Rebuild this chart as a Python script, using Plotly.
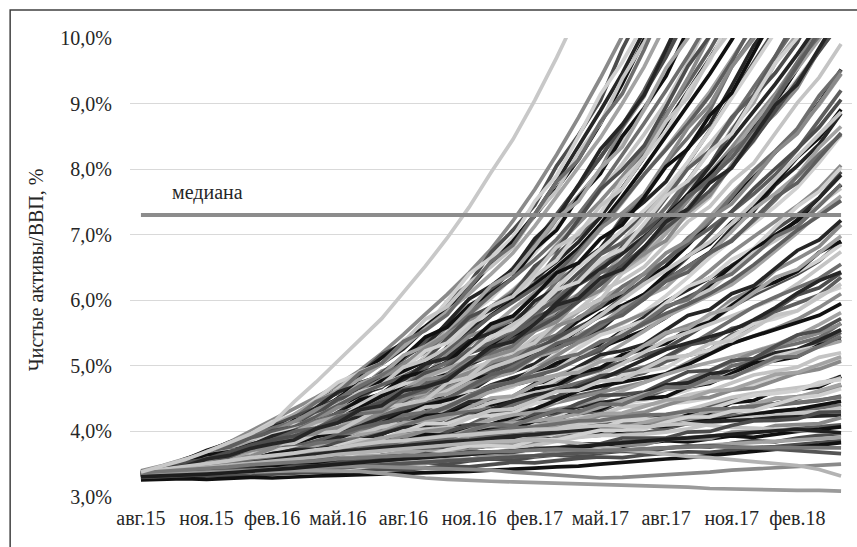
import plotly.graph_objects as go

months = ["авг.15","сен.15","окт.15","ноя.15","дек.15","янв.16","фев.16","мар.16","апр.16","май.16",
          "июн.16","июл.16","авг.16","сен.16","окт.16","ноя.16","дек.16","янв.17","фев.17","мар.17",
          "апр.17","май.17","июн.17","июл.17","авг.17","сен.17","окт.17","ноя.17","дек.17","янв.18",
          "фев.18","мар.18","апр.18"]
tick_months = months[::3]
y_ticks = [3, 4, 5, 6, 7, 8, 9, 10]
y_tick_text = ["3,0%", "4,0%", "5,0%", "6,0%", "7,0%", "8,0%", "9,0%", "10,0%"]
median_value = 7.3
median_label = "медиана"
y_title = "Чистые активы/ВВП, %"

# paths that leave the top of the chart (values in %)
exit_01 = [3.40,3.48,3.58,3.69,3.83,4.00,4.18,4.35,4.52,4.71,4.93,5.19,5.48,5.79,6.09,6.42,6.78,7.21,7.69,8.22,8.79,9.39,10.03]
exit_02 = [3.36,3.44,3.53,3.68,3.83,3.94,4.06,4.21,4.43,4.64,4.83,5.03,5.26,5.57,5.90,6.22,6.54,6.90,7.31,7.81,8.34,8.89,9.46,10.11]
exit_03 = [3.32,3.43,3.57,3.71,3.82,3.93,4.05,4.22,4.44,4.64,4.88,5.13,5.36,5.60,5.86,6.18,6.55,6.90,7.29,7.70,8.15,8.69,9.30,9.96,10.66]
exit_04 = [3.38,3.46,3.55,3.63,3.73,3.89,4.08,4.26,4.46,4.62,4.80,5.03,5.29,5.57,5.83,6.10,6.40,6.72,7.13,7.58,8.01,8.48,9.00,9.56,10.22]
exit_05 = [3.35,3.43,3.50,3.63,3.72,3.83,3.98,4.15,4.31,4.46,4.63,4.86,5.10,5.35,5.60,5.85,6.14,6.49,6.88,7.31,7.73,8.18,8.67,9.20,9.83,10.53]
exit_06 = [3.37,3.47,3.56,3.63,3.76,3.92,4.08,4.22,4.35,4.49,4.66,4.89,5.14,5.39,5.62,5.87,6.14,6.48,6.86,7.30,7.74,8.18,8.65,9.15,9.71,10.36]
exit_07 = [3.33,3.45,3.51,3.59,3.72,3.87,4.03,4.17,4.28,4.44,4.59,4.76,4.98,5.23,5.52,5.77,6.03,6.36,6.72,7.13,7.56,7.98,8.42,8.90,9.44,10.07,10.70]
exit_08 = [3.35,3.41,3.49,3.63,3.76,3.84,3.93,4.04,4.23,4.42,4.55,4.70,4.88,5.14,5.42,5.66,5.90,6.16,6.46,6.85,7.27,7.67,8.08,8.53,9.02,9.62,10.29]
exit_09 = [3.38,3.45,3.56,3.65,3.79,3.94,4.05,4.15,4.30,4.50,4.69,4.86,5.03,5.22,5.48,5.78,6.08,6.34,6.62,6.93,7.31,7.74,8.21,8.70,9.20,9.72,10.28]
exit_10 = [3.31,3.45,3.52,3.58,3.66,3.82,3.98,4.15,4.33,4.47,4.59,4.79,5.02,5.27,5.48,5.68,5.90,6.14,6.46,6.83,7.17,7.51,7.89,8.30,8.81,9.39,10.03,10.65]
exit_11 = [3.36,3.39,3.49,3.63,3.71,3.78,3.86,4.01,4.19,4.38,4.55,4.69,4.83,5.01,5.27,5.54,5.83,6.08,6.33,6.59,6.89,7.27,7.71,8.18,8.69,9.18,9.69,10.23]
exit_12 = [3.33,3.40,3.53,3.66,3.74,3.81,3.88,4.03,4.20,4.37,4.56,4.77,4.92,5.07,5.25,5.49,5.77,6.00,6.24,6.51,6.79,7.16,7.58,8.03,8.51,8.97,9.45,9.97,10.54]
exit_13 = [3.37,3.40,3.51,3.64,3.75,3.82,3.89,3.97,4.06,4.22,4.41,4.55,4.69,4.83,5.06,5.31,5.59,5.87,6.12,6.37,6.70,7.08,7.49,7.92,8.32,8.74,9.18,9.68,10.19]
exit_14 = [3.34,3.44,3.56,3.63,3.76,3.90,3.99,4.07,4.22,4.39,4.57,4.71,4.84,4.99,5.23,5.49,5.76,5.97,6.19,6.43,6.74,7.10,7.51,7.92,8.30,8.69,9.12,9.64,10.23]
exit_15 = [3.35,3.40,3.46,3.59,3.69,3.75,3.82,3.91,4.08,4.23,4.32,4.44,4.58,4.79,5.02,5.20,5.38,5.56,5.79,6.10,6.42,6.71,7.01,7.32,7.67,8.10,8.59,9.11,9.62,10.14]
exit_16 = [3.30,3.44,3.52,3.56,3.67,3.80,3.95,4.04,4.12,4.20,4.32,4.51,4.71,4.89,5.03,5.18,5.36,5.60,5.87,6.20,6.51,6.78,7.07,7.37,7.70,8.11,8.58,9.08,9.57,10.06,10.60]
exit_17 = [3.38,3.40,3.51,3.64,3.70,3.75,3.82,3.94,4.10,4.24,4.41,4.59,4.73,4.85,4.99,5.19,5.43,5.63,5.82,6.03,6.25,6.56,6.90,7.27,7.66,8.03,8.39,8.79,9.23,9.70,10.24]
exit_18 = [3.35,3.44,3.49,3.53,3.59,3.73,3.87,4.01,4.16,4.27,4.36,4.51,4.70,4.90,5.05,5.19,5.35,5.52,5.76,6.05,6.28,6.52,6.78,7.06,7.42,7.83,8.28,8.75,9.25,9.72,10.20]
exit_19 = [3.36,3.40,3.43,3.53,3.57,3.62,3.74,3.88,3.97,4.05,4.14,4.29,4.48,4.65,4.78,4.90,5.05,5.28,5.53,5.81,6.04,6.27,6.50,6.77,7.12,7.52,7.94,8.33,8.74,9.15,9.63,10.20]
exit_20 = [3.33,3.47,3.52,3.55,3.64,3.78,3.93,4.01,4.07,4.14,4.23,4.41,4.61,4.78,4.90,5.02,5.16,5.39,5.64,5.96,6.25,6.48,6.71,6.97,7.24,7.62,8.04,8.48,8.89,9.30,9.75,10.23]
exit_21 = [3.37,3.40,3.52,3.64,3.69,3.73,3.77,3.90,4.05,4.19,4.36,4.54,4.66,4.76,4.87,5.06,5.29,5.47,5.62,5.80,5.99,6.26,6.59,6.93,7.29,7.61,7.92,8.26,8.63,9.02,9.53,10.10]
exit_22 = [3.32,3.44,3.48,3.51,3.56,3.70,3.84,3.99,4.14,4.23,4.30,4.45,4.64,4.83,4.96,5.08,5.20,5.34,5.57,5.84,6.04,6.24,6.46,6.69,7.02,7.41,7.82,8.25,8.70,9.11,9.53,9.98,10.50]
exit_23 = [3.38,3.43,3.53,3.56,3.61,3.74,3.88,4.00,4.05,4.14,4.31,4.48,4.64,4.73,4.83,5.02,5.25,5.48,5.69,5.86,6.03,6.30,6.61,6.94,7.27,7.57,7.86,8.17,8.59,9.06,9.58,10.09]
exit_24 = [3.33,3.43,3.52,3.58,3.68,3.79,3.87,3.93,4.04,4.19,4.33,4.44,4.54,4.66,4.83,5.04,5.24,5.40,5.56,5.74,5.98,6.24,6.53,6.82,7.10,7.38,7.67,8.03,8.44,8.89,9.35,9.79,10.25]
exit_25 = [3.35,3.44,3.58,3.67,3.82,3.93,4.12,4.22,4.46,4.58,4.87,5.17,5.34,5.56,5.98,6.25,6.73,7.07,7.45,8.05,8.52,9.05,9.83,10.48]
exit_26 = [3.35,3.47,3.55,3.71,3.79,3.96,4.15,4.25,4.49,4.75,4.89,5.04,5.39,5.59,5.99,6.40,6.65,6.96,7.51,7.90,8.50,9.14,9.63,10.22]
exit_27 = [3.35,3.44,3.57,3.66,3.82,3.93,4.04,4.26,4.39,4.65,4.91,5.04,5.36,5.71,5.90,6.27,6.51,6.80,7.31,7.67,8.25,8.70,9.38,9.93,10.52]
exit_28 = [3.35,3.46,3.54,3.69,3.79,3.95,4.08,4.20,4.45,4.59,4.89,5.04,5.37,5.54,5.78,6.18,6.59,6.84,7.31,7.81,8.14,8.72,9.15,9.82,10.57]
exit_29 = [3.35,3.42,3.55,3.62,3.76,3.85,4.02,4.09,4.31,4.39,4.65,4.92,5.04,5.20,5.57,5.78,6.19,6.45,6.74,7.24,7.59,7.99,8.63,9.11,9.83,10.42]
exit_30 = [3.35,3.46,3.53,3.67,3.74,3.90,4.07,4.15,4.36,4.60,4.71,4.83,5.15,5.30,5.66,6.02,6.22,6.47,6.94,7.25,7.76,8.30,8.68,9.13,9.82,10.54]
exit_31 = [3.35,3.43,3.55,3.63,3.78,3.87,3.96,4.17,4.27,4.51,4.74,4.85,5.13,5.44,5.59,5.92,6.11,6.34,6.78,7.07,7.57,7.93,8.50,8.93,9.42,10.13]
exit_32 = [3.35,3.45,3.52,3.66,3.75,3.90,4.01,4.11,4.33,4.47,4.73,4.86,5.16,5.30,5.50,5.86,6.22,6.42,6.82,7.25,7.51,8.01,8.34,8.91,9.54,10.00,10.71]
exit_33 = [3.35,3.41,3.53,3.59,3.72,3.80,3.95,4.00,4.19,4.27,4.49,4.73,4.83,4.96,5.29,5.46,5.83,6.03,6.26,6.70,6.98,7.30,7.85,8.23,8.84,9.31,9.82,10.40]
exit_34 = [3.35,3.45,3.51,3.65,3.70,3.85,4.01,4.07,4.26,4.49,4.57,4.67,4.96,5.09,5.42,5.74,5.90,6.10,6.52,6.77,7.23,7.69,7.99,8.36,8.95,9.57,10.03]
exit_35 = [3.35,3.42,3.53,3.60,3.74,3.82,3.90,4.09,4.18,4.40,4.60,4.69,4.95,5.23,5.35,5.64,5.79,5.98,6.37,6.61,7.05,7.33,7.83,8.18,8.57,9.18,9.65,10.33]
exit_36 = [3.35,3.44,3.50,3.63,3.71,3.85,3.94,4.04,4.24,4.36,4.60,4.71,4.98,5.09,5.27,5.59,5.91,6.06,6.42,6.81,7.01,7.44,7.70,8.19,8.73,9.09,9.69,10.13]
exit_37 = [3.35,3.40,3.52,3.57,3.68,3.75,3.89,3.93,4.11,4.16,4.37,4.59,4.67,4.77,5.08,5.21,5.55,5.71,5.90,6.29,6.52,6.78,7.27,7.58,8.10,8.48,8.90,9.56,10.03]
exit_38 = [3.35,3.44,3.49,3.62,3.66,3.79,3.94,3.99,4.17,4.37,4.43,4.51,4.78,4.87,5.17,5.45,5.58,5.73,6.11,6.31,6.70,7.10,7.33,7.62,8.12,8.63,8.98,9.56,9.99,10.68]
exit_39 = [3.35,3.41,3.52,3.58,3.70,3.77,3.84,4.01,4.09,4.29,4.47,4.54,4.78,5.03,5.12,5.38,5.50,5.64,5.99,6.18,6.56,6.79,7.23,7.50,7.81,8.32,8.69,9.27,9.88,10.34]
exit_40 = [3.35,3.44,3.49,3.61,3.68,3.80,3.89,3.97,4.16,4.25,4.48,4.57,4.83,4.91,5.05,5.34,5.64,5.76,6.07,6.42,6.57,6.94,7.15,7.57,8.04,8.31,8.82,9.16,9.77,10.38]
exit_41 = [3.35,3.40,3.50,3.55,3.65,3.70,3.84,3.86,4.03,4.06,4.25,4.45,4.51,4.59,4.87,4.97,5.27,5.41,5.56,5.91,6.09,6.30,6.72,6.97,7.42,7.73,8.05,8.61,9.01,9.62,10.06]
exit_42 = [3.35,3.44,3.48,3.60,3.63,3.76,3.90,3.93,4.09,4.29,4.34,4.39,4.64,4.72,4.99,5.25,5.35,5.48,5.82,5.99,6.34,6.70,6.88,7.12,7.56,8.01,8.28,8.79,9.13,9.72,10.32]
exit_43 = [3.35,3.41,3.51,3.56,3.68,3.74,3.80,3.96,4.02,4.21,4.39,4.43,4.66,4.89,4.96,5.20,5.29,5.42,5.73,5.89,6.24,6.43,6.82,7.05,7.30,7.76,8.06,8.57,9.10,9.47,9.93,10.58]
exit_44 = [3.35,3.44,3.48,3.60,3.65,3.77,3.85,3.92,4.10,4.19,4.40,4.47,4.72,4.78,4.91,5.19,5.45,5.56,5.84,6.16,6.28,6.62,6.78,7.17,7.59,7.82,8.27,8.54,9.08,9.62,10.00,10.61]
exit_45 = [3.35,3.40,3.50,3.53,3.63,3.68,3.80,3.82,3.97,4.00,4.18,4.37,4.41,4.48,4.74,4.83,5.11,5.23,5.35,5.68,5.84,6.01,6.41,6.62,7.03,7.29,7.57,8.08,8.42,8.96,9.37,9.81,10.40]
exit_46 = [3.35,3.43,3.47,3.59,3.61,3.73,3.86,3.89,4.04,4.23,4.27,4.31,4.55,4.61,4.87,5.12,5.19,5.30,5.62,5.76,6.09,6.42,6.57,6.77,7.17,7.59,7.81,8.27,8.55,9.08,9.63,10.03]
exit_47 = [3.35,3.40,3.50,3.55,3.66,3.71,3.76,3.92,3.97,4.15,4.32,4.35,4.57,4.79,4.84,5.06,5.14,5.24,5.53,5.67,5.99,6.15,6.51,6.71,6.91,7.34,7.60,8.06,8.53,8.85,9.24,9.82,10.22]
exit_48 = [3.35,3.43,3.47,3.58,3.63,3.74,3.81,3.87,4.04,4.13,4.33,4.39,4.62,4.68,4.78,5.04,5.29,5.37,5.64,5.93,6.03,6.34,6.47,6.81,7.20,7.39,7.79,8.02,8.50,8.98,9.29,9.83,10.40]

# paths that stay inside the chart
mid_01 = [3.36,3.39,3.43,3.55,3.65,3.68,3.71,3.77,3.92,4.06,4.12,4.18,4.28,4.47,4.66,4.79,4.91,5.03,5.18,5.44,5.69,5.89,6.08,6.30,6.52,6.84,7.20,7.58,7.92,8.26,8.59,9.01,9.52]
mid_02 = [3.31,3.46,3.50,3.52,3.61,3.74,3.87,3.94,3.98,4.03,4.11,4.27,4.45,4.61,4.69,4.79,4.90,5.08,5.31,5.58,5.83,6.02,6.20,6.40,6.61,6.92,7.27,7.63,7.95,8.27,8.60,8.98,9.45]
mid_03 = [3.39,3.38,3.50,3.61,3.65,3.68,3.71,3.82,3.96,4.08,4.23,4.39,4.49,4.57,4.65,4.81,5.01,5.14,5.27,5.40,5.54,5.77,6.04,6.32,6.62,6.87,7.10,7.35,7.62,7.92,8.30,8.75,9.20]
mid_04 = [3.34,3.43,3.47,3.48,3.53,3.65,3.78,3.91,4.04,4.11,4.16,4.30,4.46,4.64,4.73,4.82,4.92,5.02,5.22,5.44,5.60,5.75,5.91,6.09,6.35,6.66,7.00,7.34,7.70,8.01,8.31,8.64,9.06]
mid_05 = [3.37,3.38,3.40,3.48,3.51,3.54,3.64,3.76,3.82,3.87,3.93,4.06,4.21,4.35,4.43,4.51,4.61,4.77,4.98,5.18,5.34,5.50,5.64,5.82,6.07,6.35,6.65,6.91,7.17,7.43,7.72,8.10,8.52]
mid_06 = [3.33,3.42,3.50,3.55,3.65,3.75,3.81,3.85,3.95,4.07,4.20,4.29,4.37,4.47,4.62,4.80,4.97,5.09,5.22,5.35,5.55,5.77,6.01,6.25,6.46,6.67,6.89,7.17,7.49,7.85,8.20,8.53,8.87]
mid_07 = [3.35,3.42,3.49,3.51,3.56,3.66,3.77,3.87,3.91,3.97,4.10,4.24,4.36,4.43,4.51,4.65,4.82,5.00,5.16,5.27,5.41,5.60,5.83,6.06,6.31,6.51,6.71,6.92,7.21,7.53,7.89,8.23,8.53]
mid_08 = [3.30,3.44,3.47,3.49,3.57,3.68,3.78,3.84,3.87,3.91,3.98,4.12,4.26,4.38,4.45,4.53,4.62,4.77,4.95,5.16,5.36,5.51,5.65,5.80,5.96,6.19,6.45,6.73,6.97,7.20,7.44,7.71,8.06]
mid_09 = [3.37,3.38,3.47,3.56,3.60,3.63,3.65,3.74,3.86,3.95,4.08,4.21,4.29,4.35,4.42,4.55,4.71,4.82,4.92,5.02,5.14,5.31,5.53,5.74,5.98,6.16,6.33,6.52,6.73,6.95,7.23,7.56,7.91]
mid_10 = [3.34,3.42,3.44,3.46,3.50,3.60,3.70,3.81,3.92,3.98,4.02,4.13,4.27,4.40,4.48,4.56,4.63,4.72,4.86,5.04,5.17,5.28,5.41,5.54,5.74,5.97,6.24,6.50,6.77,7.00,7.21,7.45,7.76]
mid_11 = [3.38,3.36,3.42,3.51,3.55,3.57,3.59,3.68,3.79,3.90,4.00,4.05,4.10,4.17,4.31,4.46,4.61,4.71,4.79,4.86,4.97,5.13,5.33,5.53,5.75,5.91,6.07,6.24,6.48,6.75,7.03,7.33,7.59]
mid_12 = [3.32,3.42,3.49,3.52,3.60,3.69,3.74,3.77,3.85,3.95,4.06,4.13,4.19,4.25,4.38,4.53,4.67,4.76,4.85,4.94,5.10,5.27,5.46,5.64,5.80,5.94,6.10,6.30,6.54,6.81,7.07,7.29,7.52]
mid_13 = [3.36,3.38,3.40,3.48,3.56,3.57,3.59,3.63,3.73,3.82,3.85,3.89,3.96,4.08,4.21,4.29,4.35,4.42,4.51,4.67,4.84,4.95,5.05,5.16,5.27,5.46,5.67,5.90,6.08,6.24,6.40,6.60,6.89]
mid_14 = [3.33,3.43,3.45,3.46,3.53,3.62,3.72,3.75,3.78,3.80,3.85,3.97,4.09,4.19,4.24,4.29,4.34,4.47,4.62,4.79,4.95,5.06,5.15,5.25,5.36,5.53,5.73,5.95,6.12,6.27,6.43,6.61,6.85]
mid_15 = [3.38,3.37,3.45,3.53,3.56,3.58,3.59,3.66,3.76,3.84,3.95,4.07,4.12,4.16,4.20,4.31,4.44,4.52,4.59,4.65,4.73,4.87,5.03,5.21,5.39,5.51,5.63,5.76,5.89,6.03,6.25,6.49,6.74]
mid_16 = [3.32,3.41,3.43,3.43,3.45,3.54,3.63,3.72,3.82,3.86,3.89,3.97,4.08,4.20,4.26,4.30,4.34,4.40,4.52,4.65,4.74,4.82,4.89,4.98,5.12,5.30,5.50,5.70,5.90,6.05,6.19,6.33,6.55]
mid_17 = [3.36,3.38,3.38,3.43,3.45,3.46,3.52,3.61,3.64,3.67,3.70,3.79,3.88,3.96,4.01,4.04,4.09,4.19,4.31,4.44,4.52,4.60,4.67,4.75,4.88,5.05,5.22,5.34,5.46,5.57,5.71,5.89,6.10]
mid_18 = [3.33,3.41,3.46,3.46,3.48,3.57,3.66,3.72,3.73,3.77,3.87,3.97,4.06,4.09,4.12,4.21,4.33,4.46,4.56,4.61,4.67,4.79,4.94,5.09,5.25,5.35,5.44,5.54,5.70,5.89,6.11,6.30,6.43]
mid_19 = [3.37,3.42,3.44,3.44,3.49,3.57,3.66,3.69,3.69,3.70,3.74,3.84,3.94,4.03,4.05,4.08,4.11,4.22,4.34,4.48,4.62,4.69,4.75,4.81,4.88,5.02,5.18,5.34,5.45,5.55,5.66,5.77,5.95]
mid_20 = [3.34,3.37,3.43,3.50,3.51,3.52,3.54,3.60,3.67,3.73,3.82,3.90,3.95,3.98,4.01,4.08,4.18,4.25,4.29,4.34,4.40,4.49,4.62,4.74,4.87,4.97,5.05,5.13,5.22,5.32,5.46,5.63,5.81]
mid_21 = [3.30,3.40,3.41,3.41,3.43,3.50,3.57,3.64,3.71,3.74,3.76,3.83,3.91,4.00,4.04,4.06,4.10,4.14,4.22,4.33,4.39,4.43,4.49,4.55,4.66,4.79,4.93,5.06,5.20,5.31,5.40,5.50,5.64]
mid_22 = [3.37,3.39,3.39,3.39,3.43,3.50,3.57,3.60,3.60,3.62,3.64,3.66,3.73,3.80,3.89,3.92,3.95,4.03,4.12,4.22,4.32,4.37,4.43,4.47,4.53,4.63,4.76,4.88,5.01,5.15,5.23,5.31,5.41]
mid_23 = [3.32,3.38,3.44,3.44,3.50,3.56,3.58,3.60,3.64,3.70,3.78,3.80,3.82,3.85,3.92,4.02,4.09,4.13,4.17,4.20,4.27,4.37,4.47,4.57,4.64,4.68,4.75,4.84,4.95,5.09,5.20,5.29,5.38]
mid_24 = [3.36,3.36,3.37,3.42,3.46,3.46,3.46,3.48,3.54,3.60,3.60,3.61,3.63,3.70,3.77,3.80,3.83,3.85,3.88,3.96,4.05,4.10,4.13,4.17,4.20,4.28,4.38,4.49,4.56,4.61,4.64,4.72,4.84]
mid_25 = [3.38,3.40,3.41,3.40,3.44,3.49,3.55,3.57,3.57,3.57,3.59,3.65,3.72,3.78,3.79,3.80,3.81,3.87,3.95,4.04,4.13,4.16,4.19,4.22,4.25,4.33,4.42,4.52,4.58,4.62,4.67,4.71,4.82]
mid_26 = [3.33,3.36,3.41,3.46,3.46,3.45,3.45,3.50,3.55,3.60,3.66,3.72,3.74,3.74,3.75,3.80,3.87,3.90,3.90,3.92,3.94,4.00,4.08,4.16,4.25,4.30,4.32,4.35,4.39,4.42,4.50,4.60,4.71]
mid_27 = [3.35,3.38,3.38,3.38,3.38,3.43,3.48,3.53,3.57,3.59,3.59,3.63,3.68,3.73,3.75,3.77,3.77,3.79,3.84,3.90,3.92,3.95,3.97,3.98,4.04,4.12,4.20,4.28,4.36,4.40,4.44,4.47,4.54]
mid_28 = [3.33,3.39,3.39,3.39,3.42,3.45,3.51,3.52,3.51,3.51,3.53,3.57,3.62,3.66,3.66,3.68,3.67,3.73,3.78,3.85,3.91,3.94,3.94,3.96,3.99,4.04,4.11,4.18,4.22,4.24,4.28,4.30,4.36]
mid_29 = [3.36,3.40,3.44,3.47,3.52,3.55,3.59,3.62,3.66,3.70,3.72,3.75,3.79,3.82,3.84,3.86,3.90,3.93,3.95,3.98,4.02,4.03,4.05,4.08,4.10,4.12,4.15,4.16,4.18,4.21,4.22,4.24,4.25]
mid_30 = [3.34,3.36,3.38,3.39,3.41,3.43,3.45,3.46,3.49,3.52,3.54,3.55,3.58,3.62,3.64,3.65,3.67,3.70,3.74,3.75,3.77,3.80,3.84,3.86,3.88,3.90,3.93,3.96,3.99,4.01,4.04,4.07,4.10]
mid_31 = [3.38,3.42,3.47,3.50,3.55,3.60,3.63,3.67,3.72,3.75,3.80,3.84,3.86,3.90,3.93,3.95,3.98,4.01,4.03,4.04,4.07,4.09,4.08,4.07,4.10,4.12,4.09,4.06,4.05,4.03,4.01,4.00,3.98]
mid_32 = [3.32,3.33,3.35,3.36,3.38,3.40,3.41,3.43,3.45,3.47,3.49,3.50,3.52,3.55,3.57,3.58,3.60,3.62,3.63,3.65,3.67,3.70,3.72,3.74,3.76,3.78,3.80,3.82,3.84,3.85,3.87,3.89,3.91]
mid_33 = [3.35,3.43,3.47,3.57,3.61,3.71,3.82,3.86,3.99,4.15,4.20,4.26,4.46,4.54,4.75,4.96,5.06,5.17,5.44,5.59,5.86,6.14,6.30,6.51,6.85,7.20,7.43,7.81,8.09,8.55,9.01,9.40,9.91]
mid_34 = [3.35,3.40,3.48,3.53,3.63,3.69,3.74,3.87,3.93,4.08,4.22,4.27,4.45,4.64,4.70,4.89,4.98,5.09,5.34,5.47,5.74,5.91,6.21,6.40,6.60,6.95,7.20,7.58,7.98,8.28,8.62,9.12,9.51]
mid_35 = [3.35,3.42,3.46,3.56,3.61,3.71,3.77,3.83,3.97,4.05,4.21,4.28,4.47,4.55,4.65,4.86,5.06,5.14,5.38,5.61,5.72,5.98,6.12,6.41,6.72,6.91,7.25,7.47,7.85,8.26,8.54,8.99,9.46]
mid_36 = [3.35,3.38,3.48,3.51,3.59,3.63,3.74,3.76,3.88,3.91,4.06,4.21,4.25,4.32,4.51,4.60,4.82,4.91,5.03,5.27,5.40,5.55,5.84,6.02,6.31,6.52,6.73,7.10,7.36,7.76,8.05,8.38,8.85]
mid_37 = [3.35,3.42,3.45,3.54,3.58,3.67,3.78,3.81,3.92,4.06,4.10,4.16,4.34,4.40,4.59,4.79,4.86,4.94,5.20,5.30,5.55,5.80,5.92,6.09,6.39,6.68,6.86,7.19,7.41,7.80,8.18,8.48,8.91]
mid_38 = [3.35,3.39,3.47,3.51,3.61,3.66,3.70,3.82,3.87,4.01,4.14,4.18,4.34,4.52,4.57,4.74,4.81,4.90,5.13,5.23,5.48,5.62,5.89,6.04,6.20,6.51,6.71,7.05,7.39,7.63,7.91,8.33,8.65]
mid_39 = [3.35,3.42,3.44,3.54,3.59,3.67,3.72,3.78,3.91,3.97,4.12,4.18,4.35,4.41,4.50,4.69,4.87,4.94,5.14,5.34,5.44,5.66,5.77,6.02,6.29,6.43,6.73,6.90,7.23,7.57,7.79,8.16,8.55]
mid_40 = [3.35,3.38,3.46,3.49,3.56,3.60,3.69,3.71,3.82,3.83,3.97,4.11,4.14,4.18,4.36,4.43,4.63,4.70,4.79,5.01,5.11,5.23,5.49,5.63,5.89,6.05,6.21,6.53,6.74,7.08,7.30,7.56,7.96]
mid_41 = [3.35,3.42,3.44,3.52,3.55,3.64,3.73,3.75,3.86,3.98,4.01,4.05,4.22,4.26,4.44,4.61,4.66,4.73,4.96,5.04,5.27,5.47,5.57,5.69,5.96,6.21,6.34,6.62,6.79,7.12,7.43,7.66,8.02]
mid_42 = [3.35,3.39,3.45,3.49,3.58,3.62,3.65,3.76,3.80,3.93,4.04,4.07,4.22,4.37,4.40,4.56,4.60,4.68,4.87,4.95,5.17,5.27,5.51,5.62,5.74,6.00,6.16,6.45,6.73,6.91,7.12,7.47,7.71]
mid_43 = [3.35,3.42,3.43,3.52,3.56,3.64,3.68,3.73,3.85,3.90,4.04,4.09,4.25,4.29,4.36,4.54,4.70,4.75,4.93,5.11,5.18,5.37,5.45,5.67,5.91,6.01,6.27,6.40,6.68,6.97,7.13,7.44,7.77]
mid_44 = [3.35,3.38,3.45,3.47,3.53,3.56,3.65,3.65,3.76,3.76,3.89,4.01,4.03,4.05,4.22,4.27,4.45,4.50,4.57,4.76,4.84,4.93,5.16,5.26,5.49,5.61,5.74,6.01,6.17,6.46,6.63,6.82,7.15]
mid_45 = [3.35,3.42,3.43,3.50,3.53,3.60,3.69,3.70,3.79,3.91,3.92,3.95,4.11,4.13,4.29,4.45,4.48,4.53,4.73,4.79,4.99,5.17,5.23,5.33,5.55,5.77,5.86,6.10,6.22,6.49,6.76,6.92,7.22]
mid_46 = [3.35,3.38,3.44,3.47,3.55,3.58,3.61,3.70,3.74,3.85,3.95,3.97,4.10,4.24,4.26,4.39,4.41,4.47,4.65,4.70,4.89,4.97,5.17,5.25,5.34,5.56,5.67,5.92,6.16,6.28,6.44,6.73,6.90]
mid_47 = [3.35,3.41,3.42,3.50,3.53,3.61,3.64,3.67,3.78,3.82,3.95,3.99,4.13,4.16,4.21,4.37,4.51,4.54,4.71,4.86,4.90,5.07,5.11,5.31,5.51,5.57,5.79,5.88,6.11,6.35,6.47,6.72,6.98]
mid_48 = [3.35,3.37,3.44,3.45,3.50,3.52,3.60,3.59,3.69,3.68,3.80,3.90,3.90,3.92,4.07,4.10,4.25,4.29,4.34,4.50,4.55,4.62,4.81,4.89,5.07,5.16,5.24,5.48,5.59,5.83,5.95,6.08,6.35]
mid_49 = [3.35,3.41,3.41,3.48,3.50,3.56,3.64,3.64,3.72,3.83,3.83,3.85,3.98,3.99,4.14,4.27,4.28,4.31,4.49,4.53,4.70,4.85,4.89,4.95,5.14,5.32,5.38,5.57,5.64,5.86,6.08,6.19,6.42]
mid_50 = [3.35,3.38,3.43,3.45,3.52,3.55,3.57,3.65,3.67,3.78,3.87,3.87,3.99,4.12,4.12,4.23,4.24,4.28,4.43,4.46,4.63,4.68,4.86,4.91,4.97,5.16,5.24,5.45,5.64,5.72,5.84,6.08,6.20]
mid_51 = [3.35,3.40,3.41,3.49,3.50,3.56,3.59,3.62,3.71,3.74,3.86,3.88,4.01,4.03,4.06,4.20,4.32,4.34,4.48,4.61,4.63,4.77,4.79,4.95,5.12,5.16,5.34,5.38,5.57,5.77,5.84,6.04,6.25]
mid_52 = [3.35,3.36,3.42,3.43,3.47,3.48,3.56,3.54,3.62,3.60,3.71,3.80,3.79,3.79,3.92,3.93,4.07,4.09,4.11,4.26,4.29,4.32,4.50,4.54,4.70,4.76,4.81,5.00,5.07,5.27,5.34,5.43,5.65]
mid_53 = [3.35,3.40,3.40,3.46,3.46,3.52,3.59,3.58,3.65,3.75,3.74,3.74,3.86,3.86,3.99,4.10,4.10,4.11,4.26,4.28,4.43,4.55,4.56,4.60,4.76,4.91,4.93,5.08,5.11,5.30,5.47,5.54,5.72]
mid_54 = [3.35,3.36,3.41,3.42,3.48,3.50,3.51,3.59,3.59,3.68,3.76,3.75,3.85,3.95,3.94,4.03,4.02,4.03,4.16,4.17,4.31,4.33,4.49,4.50,4.53,4.68,4.73,4.89,5.04,5.08,5.14,5.32,5.40]
mid_55 = [3.35,3.39,3.39,3.45,3.46,3.52,3.53,3.55,3.63,3.65,3.76,3.76,3.87,3.86,3.88,4.01,4.11,4.09,4.21,4.32,4.30,4.42,4.41,4.54,4.68,4.67,4.82,4.82,4.97,5.13,5.14,5.29,5.45]
mid_56 = [3.35,3.35,3.41,3.40,3.43,3.43,3.49,3.47,3.54,3.51,3.59,3.67,3.64,3.62,3.73,3.73,3.85,3.84,3.84,3.96,3.96,3.97,4.11,4.13,4.25,4.27,4.28,4.44,4.47,4.62,4.64,4.68,4.84]
mid_57 = [3.30,3.32,3.31,3.35,3.34,3.38,3.37,3.41,3.40,3.44,3.47,3.45,3.50,3.52,3.50,3.55,3.58,3.56,3.61,3.64,3.62,3.67,3.70,3.68,3.74,3.78,3.76,3.82,3.86,3.84,3.90,3.94,3.97]
mid_58 = [3.36,3.40,3.43,3.48,3.51,3.55,3.60,3.62,3.67,3.70,3.72,3.77,3.79,3.84,3.86,3.88,3.93,3.95,3.97,4.02,4.04,4.06,4.10,4.12,4.15,4.19,4.21,4.23,4.27,4.30,4.32,4.36,4.40]
mid_59 = [3.33,3.35,3.38,3.39,3.42,3.46,3.47,3.51,3.54,3.55,3.59,3.63,3.64,3.68,3.72,3.74,3.78,3.83,3.85,3.90,3.94,3.96,4.01,4.06,4.08,4.13,4.17,4.20,4.26,4.31,4.34,4.40,4.46]
mid_60 = [3.28,3.30,3.29,3.32,3.33,3.32,3.35,3.36,3.38,3.37,3.40,3.42,3.41,3.44,3.47,3.46,3.50,3.53,3.52,3.56,3.59,3.61,3.60,3.64,3.67,3.69,3.68,3.72,3.75,3.77,3.80,3.83,3.86]
mid_61 = [3.37,3.41,3.46,3.49,3.54,3.58,3.62,3.67,3.71,3.74,3.79,3.82,3.87,3.90,3.94,3.96,4.01,4.05,4.07,4.12,4.16,4.17,4.22,4.25,4.26,4.31,4.34,4.35,4.39,4.42,4.44,4.48,4.52]
mid_62 = [3.34,3.36,3.39,3.40,3.43,3.46,3.48,3.50,3.52,3.56,3.58,3.60,3.63,3.62,3.65,3.68,3.66,3.70,3.73,3.71,3.76,3.79,3.77,3.82,3.86,3.84,3.89,3.93,3.91,3.96,4.00,4.03,4.07]
mid_63 = [3.35,3.37,3.42,3.43,3.46,3.48,3.54,3.55,3.61,3.62,3.70,3.77,3.78,3.81,3.91,3.93,4.04,4.08,4.10,4.23,4.27,4.31,4.45,4.51,4.64,4.70,4.77,4.92,5.00,5.16,5.24,5.34,5.51]
mid_64 = [3.35,3.38,3.39,3.45,3.46,3.52,3.55,3.57,3.64,3.66,3.75,3.78,3.87,3.88,3.92,4.01,4.10,4.12,4.21,4.31,4.34,4.44,4.48,4.58,4.71,4.74,4.88,4.92,5.06,5.20,5.25,5.39,5.55]
mid_65 = [3.35,3.36,3.41,3.41,3.46,3.49,3.50,3.57,3.58,3.65,3.72,3.72,3.79,3.87,3.87,3.96,3.97,3.99,4.09,4.11,4.21,4.25,4.37,4.40,4.44,4.56,4.62,4.74,4.86,4.92,4.98,5.13,5.20]
mid_66 = [3.35,3.36,3.41,3.41,3.44,3.46,3.51,3.52,3.57,3.57,3.65,3.71,3.71,3.72,3.81,3.84,3.93,3.95,3.97,4.08,4.10,4.14,4.26,4.30,4.42,4.45,4.51,4.64,4.70,4.84,4.89,4.96,5.11]
mid_67 = [3.35,3.38,3.39,3.43,3.43,3.48,3.53,3.53,3.58,3.65,3.65,3.66,3.74,3.74,3.83,3.91,3.92,3.93,4.04,4.05,4.15,4.24,4.25,4.29,4.40,4.50,4.52,4.63,4.66,4.78,4.89,4.95,5.07]
mid_68 = [3.35,3.38,3.39,3.44,3.44,3.49,3.51,3.53,3.60,3.62,3.69,3.71,3.79,3.80,3.82,3.91,3.99,4.00,4.08,4.16,4.18,4.27,4.28,4.38,4.48,4.50,4.61,4.64,4.76,4.87,4.90,5.02,5.14]
mid_69 = [3.35,3.36,3.40,3.40,3.44,3.46,3.46,3.53,3.53,3.59,3.65,3.64,3.70,3.78,3.77,3.84,3.84,3.85,3.93,3.94,4.03,4.05,4.16,4.18,4.20,4.31,4.34,4.45,4.55,4.58,4.62,4.75,4.79]
mid_70 = [3.35,3.36,3.40,3.40,3.42,3.43,3.47,3.48,3.52,3.51,3.58,3.63,3.62,3.63,3.71,3.72,3.80,3.81,3.81,3.91,3.92,3.94,4.05,4.08,4.18,4.20,4.23,4.35,4.39,4.50,4.53,4.58,4.70]
mid_71 = [3.35,3.37,3.38,3.42,3.42,3.46,3.47,3.48,3.54,3.55,3.62,3.63,3.69,3.69,3.71,3.78,3.85,3.84,3.91,3.98,3.98,4.05,4.05,4.13,4.22,4.22,4.31,4.32,4.42,4.51,4.52,4.62,4.72]
mid_72 = [3.35,3.37,3.38,3.41,3.41,3.45,3.49,3.48,3.52,3.58,3.58,3.58,3.64,3.63,3.72,3.78,3.78,3.77,3.87,3.87,3.95,4.02,4.02,4.04,4.14,4.22,4.22,4.31,4.32,4.42,4.51,4.55,4.65]
mid_73 = [3.35,3.35,3.39,3.38,3.40,3.39,3.43,3.42,3.46,3.44,3.49,3.53,3.51,3.51,3.57,3.57,3.64,3.64,3.62,3.71,3.70,3.70,3.79,3.80,3.88,3.88,3.89,3.99,4.00,4.09,4.10,4.12,4.21]
mid_74 = [3.35,3.35,3.39,3.38,3.42,3.42,3.42,3.47,3.47,3.52,3.56,3.54,3.59,3.66,3.63,3.69,3.68,3.68,3.74,3.74,3.81,3.81,3.90,3.90,3.90,3.99,4.00,4.09,4.16,4.17,4.19,4.29,4.30]

# low paths
low_01 = [3.26,3.27,3.28,3.27,3.28,3.30,3.29,3.31,3.32,3.33,3.34,3.34,3.36,3.37,3.37,3.39,3.41,3.42,3.44,3.46,3.47,3.50,3.53,3.55,3.58,3.60,3.63,3.66,3.70,3.72,3.75,3.79,3.83]
low_02 = [3.30,3.31,3.33,3.34,3.36,3.37,3.39,3.42,3.43,3.45,3.47,3.49,3.52,3.54,3.56,3.58,3.60,3.61,3.63,3.66,3.68,3.70,3.71,3.74,3.76,3.77,3.78,3.77,3.75,3.73,3.71,3.68,3.66]
low_03 = [3.33,3.35,3.36,3.38,3.39,3.41,3.42,3.44,3.45,3.46,3.47,3.46,3.45,3.44,3.43,3.42,3.41,3.38,3.36,3.34,3.31,3.29,3.30,3.32,3.33,3.35,3.38,3.41,3.43,3.45,3.47,3.49,3.50]
low_04 = [3.36,3.39,3.42,3.45,3.48,3.51,3.55,3.58,3.61,3.65,3.68,3.71,3.74,3.77,3.79,3.82,3.84,3.86,3.87,3.85,3.82,3.77,3.72,3.69,3.65,3.62,3.60,3.57,3.55,3.51,3.48,3.42,3.32]
low_05 = [3.34,3.35,3.36,3.37,3.38,3.39,3.39,3.40,3.40,3.40,3.39,3.36,3.32,3.29,3.27,3.25,3.24,3.23,3.22,3.22,3.21,3.20,3.19,3.18,3.17,3.15,3.13,3.12,3.11,3.11,3.10,3.10,3.09]
low_06 = [3.31,3.32,3.34,3.35,3.37,3.39,3.42,3.44,3.47,3.50,3.53,3.55,3.58,3.60,3.62,3.65,3.68,3.70,3.72,3.74,3.77,3.80,3.83,3.86,3.88,3.90,3.93,3.96,3.98,4.01,4.03,4.01,3.98]
low_07 = [3.37,3.39,3.41,3.44,3.46,3.49,3.51,3.52,3.55,3.58,3.60,3.62,3.63,3.64,3.66,3.68,3.69,3.70,3.72,3.73,3.72,3.71,3.72,3.74,3.75,3.76,3.77,3.76,3.76,3.75,3.76,3.75,3.75]

# the fastest path
outlier = [3.38,3.47,3.57,3.69,3.82,3.96,4.12,4.45,4.75,5.07,5.40,5.72,6.12,6.52,6.95,7.42,7.95,8.45,9.05,9.70,10.40]

exit_paths = [exit_01, exit_25, exit_02, exit_26, exit_03, exit_27, exit_04, exit_28, exit_05, exit_29, exit_06, exit_30,
              exit_07, exit_31, exit_08, exit_32, exit_09, exit_33, exit_10, exit_34, exit_11, exit_35, exit_12, exit_36,
              exit_13, exit_37, exit_14, exit_38, exit_15, exit_39, exit_16, exit_40, exit_17, exit_41, exit_18, exit_42,
              exit_19, exit_43, exit_20, exit_44, exit_21, exit_45, exit_22, exit_46, exit_23, exit_47, exit_24, exit_48]
mid_paths = [mid_01, mid_33, mid_02, mid_34, mid_03, mid_35, mid_04, mid_36, mid_05, mid_37, mid_06, mid_38, mid_07,
             mid_39, mid_08, mid_40, mid_09, mid_41, mid_10, mid_42, mid_11, mid_43, mid_12, mid_44, mid_13, mid_45,
             mid_14, mid_46, mid_15, mid_47, mid_16, mid_48, mid_17, mid_49, mid_18, mid_50, mid_19, mid_51, mid_20,
             mid_52, mid_63, mid_21, mid_53, mid_64, mid_22, mid_54, mid_65, mid_23, mid_55, mid_66, mid_24, mid_56,
             mid_67, mid_25, mid_57, mid_68, mid_26, mid_58, mid_69, mid_27, mid_59, mid_70, mid_28, mid_60, mid_71,
             mid_29, mid_61, mid_72, mid_30, mid_62, mid_73, mid_31, mid_74, mid_32]
low_paths = [low_01, low_02, low_03, low_04, low_05, low_06, low_07]
low_colors = ["#111111", "#555555", "#8a8a8a", "#b3b3b3", "#9a9a9a", "#1e1e1e", "#777777"]
palette = ["#111111", "#8a8a8a", "#c4c4c4", "#4d4d4d", "#a3a3a3", "#262626", "#6e6e6e", "#d0d0d0", "#5e5e5e"]

LW = 3.7
TXT = "#262626"
FONT = "Liberation Serif, Times New Roman, serif"
fig = go.Figure()

all_paths = []
for i in range(max(len(exit_paths), len(mid_paths))):
    if i < len(mid_paths):
        all_paths.append(mid_paths[i])
    if i < len(exit_paths):
        all_paths.append(exit_paths[i])

for i, p in enumerate(all_paths):
    fig.add_trace(go.Scatter(x=months[:len(p)], y=p, mode="lines",
                             line=dict(color=palette[i % len(palette)], width=LW), showlegend=False,
                             hoverinfo="skip"))
for p, c in zip(low_paths, low_colors):
    fig.add_trace(go.Scatter(x=months[:len(p)], y=p, mode="lines",
                             line=dict(color=c, width=LW), showlegend=False, hoverinfo="skip"))
fig.add_trace(go.Scatter(x=months[:len(outlier)], y=outlier, mode="lines",
                         line=dict(color="#c8c8c8", width=LW), showlegend=False, hoverinfo="skip"))
fig.add_trace(go.Scatter(x=months, y=[median_value] * len(months), mode="lines",
                         line=dict(color="#8c8c8c", width=4), showlegend=False, hoverinfo="skip"))

fig.update_layout(
    width=857, height=547,
    margin=dict(l=130, r=5, t=38, b=50),
    paper_bgcolor="white", plot_bgcolor="white",
    font=dict(family=FONT, size=20, color=TXT),
    xaxis=dict(type="category", categoryorder="array", categoryarray=months,
               range=[-0.5, len(months) - 0.5], tickmode="array", tickvals=tick_months,
               ticktext=tick_months, showgrid=False, zeroline=False, showline=False,
               ticks="", tickfont=dict(family=FONT, size=20, color=TXT),
               ticklabelstandoff=7),
    yaxis=dict(range=[3, 10], tickmode="array", tickvals=y_ticks, ticktext=y_tick_text,
               showgrid=True, gridcolor="#d9d9d9", gridwidth=1.2, zeroline=False, showline=False,
               ticks="", tickfont=dict(family=FONT, size=20, color=TXT),
               ticklabelstandoff=17),
    annotations=[
        dict(text=median_label, x=3.06, y=7.64, xref="x", yref="y", showarrow=False,
             font=dict(family=FONT, size=20, color=TXT)),
        dict(text=y_title, x=-0.131, y=0.495, xref="paper", yref="paper", showarrow=False,
             xanchor="center", yanchor="middle",
             textangle=-90, font=dict(family=FONT, size=20, color=TXT)),
    ],
    shapes=[dict(type="rect", xref="paper", yref="paper", x0=-0.166, x1=1.03, y0=-0.14, y1=1.061,
                 line=dict(color="#404040", width=1.5), fillcolor="rgba(0,0,0,0)", layer="above")],
)

fig.write_html("out.html", config={"displayModeBar": False},
               post_script="document.body.style.margin='0';")
